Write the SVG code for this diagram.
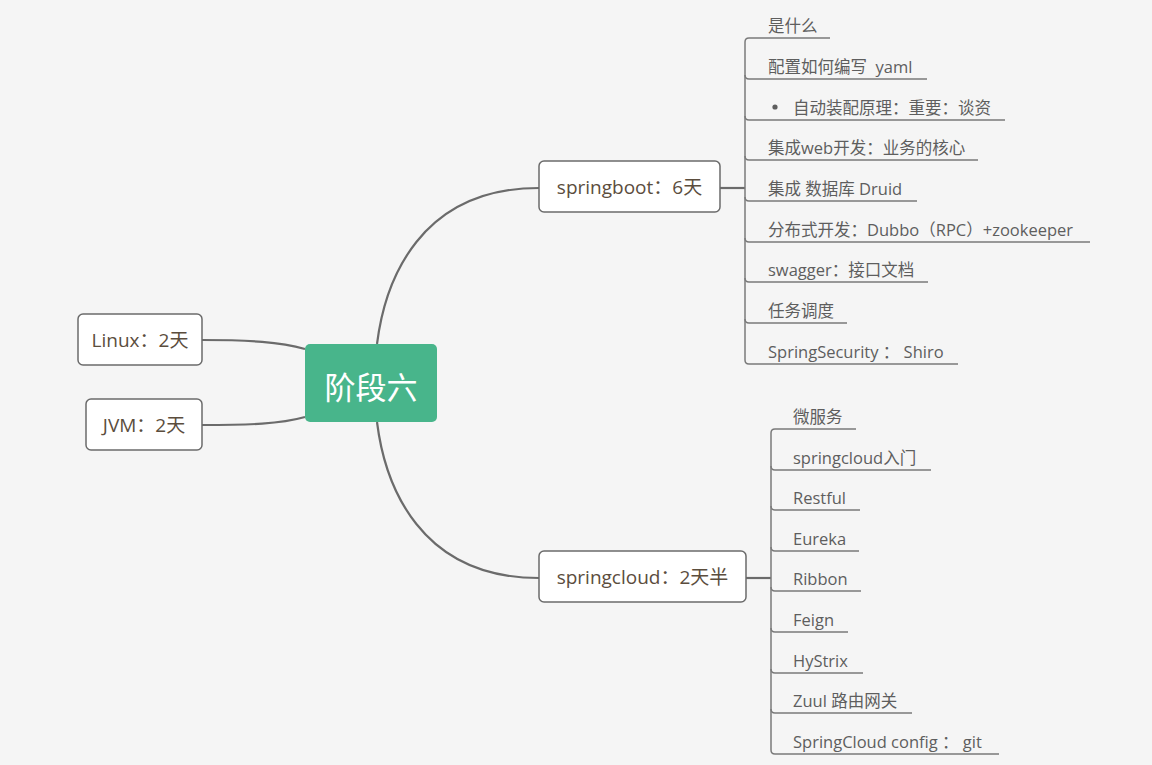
<svg xmlns="http://www.w3.org/2000/svg" width="1152" height="765" viewBox="0 0 1152 765">
<style>
.bg{fill:#f5f5f5}
.node rect{fill:#ffffff;stroke:#6b6b6b;stroke-width:1.5}
.node text{font-family:"Open Sans","Noto Sans CJK SC",sans-serif;font-size:19px;fill:#5b4d3d;text-anchor:middle;dominant-baseline:central}
.conn{fill:none;stroke:#6b6b6b;stroke-width:2.2}
.br{fill:none;stroke:#7a7a7a;stroke-width:1.5}
.leaf text{font-family:"Open Sans","Noto Sans CJK SC",sans-serif;font-size:16.5px;fill:#5e5e5e;white-space:pre}
</style>
<rect class="bg" x="0" y="0" width="1152" height="765"/>
<g id="connectors">
<path class="conn" d="M377,344 C385,280 420,188 539,188"/>
<path class="conn" d="M377,422 C385,486 420,578 539,578"/>
<path class="conn" d="M305,349 C280,342 250,340 202,340"/>
<path class="conn" d="M305,417 C280,424 250,425 202,425"/>
<path class="conn" d="M720,188 H745"/>
<path class="conn" d="M746,578 H771"/>
<path class="br" d="M745,42 V360"/>
<path class="br" d="M745,42 Q745,38 749,38 H830"/>
<path class="br" d="M745,75 Q745,79 749,79 H927"/>
<path class="br" d="M745,116 Q745,120 749,120 H1005"/>
<path class="br" d="M745,156 Q745,160 749,160 H978"/>
<path class="br" d="M745,197 Q745,201 749,201 H917"/>
<path class="br" d="M745,238 Q745,242 749,242 H1090"/>
<path class="br" d="M745,278 Q745,282 749,282 H928"/>
<path class="br" d="M745,319 Q745,323 749,323 H847"/>
<path class="br" d="M745,360 Q745,364 749,364 H958"/>
<path class="br" d="M771,433 V750"/>
<path class="br" d="M771,433 Q771,429 775,429 H856"/>
<path class="br" d="M771,466 Q771,470 775,470 H931"/>
<path class="br" d="M771,506 Q771,510 775,510 H860"/>
<path class="br" d="M771,547 Q771,551 775,551 H859"/>
<path class="br" d="M771,587 Q771,591 775,591 H861"/>
<path class="br" d="M771,628 Q771,632 775,632 H848"/>
<path class="br" d="M771,669 Q771,673 775,673 H863"/>
<path class="br" d="M771,709 Q771,713 775,713 H912"/>
<path class="br" d="M771,750 Q771,754 775,754 H999"/>
</g>
<g id="center">
<rect x="305" y="344" width="132" height="78" rx="5" fill="#48b58b"/>
<text x="371" y="385" font-family="'Noto Sans CJK SC',sans-serif" font-size="31" fill="#ffffff" text-anchor="middle" dominant-baseline="central">阶段六</text>
</g>
<g id="springboot" class="node"><rect x="539" y="161" width="181" height="51" rx="5"/><text x="629.5" y="187">springboot：6天</text></g>
<g id="springcloud" class="node"><rect x="539" y="551" width="207" height="51" rx="5"/><text x="642.5" y="577">springcloud：2天半</text></g>
<g id="linux" class="node"><rect x="78" y="314" width="124" height="51" rx="5"/><text x="140" y="340">Linux：2天</text></g>
<g id="jvm" class="node"><rect x="86" y="399" width="116" height="51" rx="5"/><text x="144" y="425">JVM：2天</text></g>
<g id="sb-children" class="leaf">
<g id="sb1"><text x="768" y="32">是什么</text></g>
<g id="sb2"><text x="768" y="73" xml:space="preserve">配置如何编写  yaml</text></g>
<g id="sb3"><circle cx="775" cy="107" r="2.6" fill="#5e5e5e"/><text x="793" y="114">自动装配原理：重要：谈资</text></g>
<g id="sb4"><text x="768" y="154">集成web开发：业务的核心</text></g>
<g id="sb5"><text x="768" y="195">集成 数据库 Druid</text></g>
<g id="sb6"><text x="768" y="236">分布式开发：Dubbo（RPC）+zookeeper</text></g>
<g id="sb7"><text x="768" y="276">swagger：接口文档</text></g>
<g id="sb8"><text x="768" y="317">任务调度</text></g>
<g id="sb9"><text x="768" y="358" xml:space="preserve">SpringSecurity ： Shiro</text></g>
</g>
<g id="sc-children" class="leaf">
<g id="sc1"><text x="793" y="423">微服务</text></g>
<g id="sc2"><text x="793" y="464">springcloud入门</text></g>
<g id="sc3"><text x="793" y="504">Restful</text></g>
<g id="sc4"><text x="793" y="545">Eureka</text></g>
<g id="sc5"><text x="793" y="585">Ribbon</text></g>
<g id="sc6"><text x="793" y="626">Feign</text></g>
<g id="sc7"><text x="793" y="667">HyStrix</text></g>
<g id="sc8"><text x="793" y="707">Zuul 路由网关</text></g>
<g id="sc9"><text x="793" y="748" xml:space="preserve">SpringCloud config ： git</text></g>
</g>
</svg>
